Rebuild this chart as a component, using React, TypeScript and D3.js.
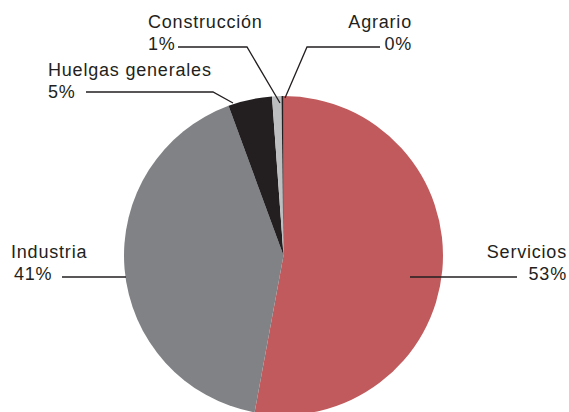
import React from "react";
import * as d3 from "d3";

const categories = ["Servicios", "Industria", "Huelgas generales", "Construcción", "Agrario"];
const values = [52.9, 41.5, 4.45, 0.95, 0.2];
const pctLabels = ["53%", "41%", "5%", "1%", "0%"];
const colors = ["#c05a5c", "#808285", "#231f20", "#bcbec0", "#231f20"];

// label layout: [textX, nameBaseline, pctX, pctBaseline, anchor]
const labelPos: [number, number, number, number, "start" | "end"][] = [
  [567, 258, 567, 280, "end"],
  [11, 258, 14, 280, "start"],
  [48, 76, 48, 98, "start"],
  [148, 28, 148, 50, "start"],
  [412, 28, 412, 50, "end"],
];
// leader polylines
const leaders: [number, number][][] = [
  [[517, 277], [410, 277]],
  [[62, 277], [126, 277]],
  [[86, 92], [213, 92], [233, 103]],
  [[178, 47], [247, 47], [280, 103]],
  [[380, 47], [307, 47], [285, 98]],
];

const W = 569;
const H = 412;
const cx = 283.5;
const cy = 255.5;
const R = 159.5;

export default function App() {
  const pie = d3.pie<number>().sort(null).startAngle(0).endAngle(2 * Math.PI);
  const arcs = pie(values);
  const arc = d3.arc<d3.PieArcDatum<number>>().innerRadius(0).outerRadius(R);
  const line = d3.line();
  const font = "'Liberation Sans', Arial, sans-serif";
  return (
    <svg width={W} height={H} style={{ position: "absolute", left: 0, top: 0, background: "#fff" }}>
      <g transform={`translate(${cx},${cy})`}>
        {arcs.map((a, i) => (
          <path key={i} d={arc(a) || ""} fill={colors[i]} />
        ))}
      </g>
      {leaders.map((pts, i) => (
        <path key={i} d={line(pts) || ""} fill="none" stroke="#231f20" strokeWidth={1.3} />
      ))}
      {categories.map((c, i) => {
        const [tx, ty, px, py, anchor] = labelPos[i];
        return (
          <g key={c} fontFamily={font} fontSize={18} letterSpacing={0.8} fill="#231f20">
            <text x={tx} y={ty} textAnchor={anchor}>{c}</text>
            <text x={px} y={py} textAnchor={anchor}>{pctLabels[i]}</text>
          </g>
        );
      })}
    </svg>
  );
}
